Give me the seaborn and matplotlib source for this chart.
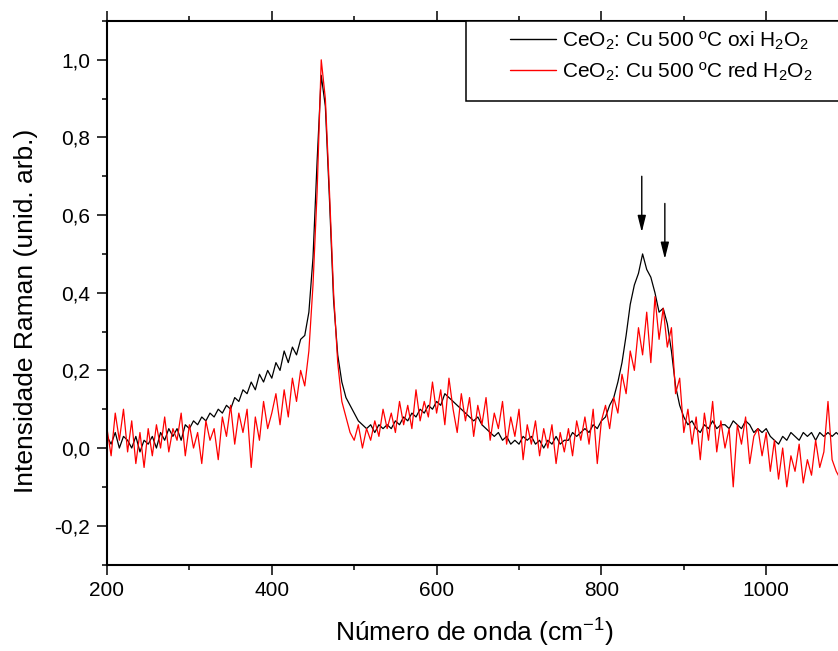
import numpy as np
import pandas as pd
import matplotlib
matplotlib.use("Agg")
import matplotlib.pyplot as plt
import seaborn as sns
from matplotlib.patches import Rectangle
from matplotlib.ticker import MultipleLocator, AutoMinorLocator, FuncFormatter

# ---------------------------------------------------------
# data (every 5 cm-1, 200 -> 1090)
# ---------------------------------------------------------
wavenumber = list(range(200, 1091, 5))

oxi = [
    0.03, 0.01, 0.04, 0.00, 0.03, 0.02, 0.00, 0.03, -0.01, 0.02,   # 200-245
    0.01, 0.03, 0.00, 0.04, 0.02, 0.05, 0.03, 0.05, 0.02, 0.06,    # 250-295
    0.05, 0.07, 0.06, 0.08, 0.07, 0.09, 0.08, 0.10, 0.09, 0.11,    # 300-345
    0.10, 0.13, 0.12, 0.15, 0.14, 0.17, 0.15, 0.19, 0.17, 0.20,    # 350-395
    0.18, 0.22, 0.20, 0.25, 0.22, 0.26, 0.24, 0.28, 0.29, 0.35,    # 400-445
    0.49, 0.74, 0.96, 0.88, 0.64, 0.38, 0.24, 0.17, 0.13, 0.11,    # 450-495
    0.09, 0.07, 0.06, 0.05, 0.06, 0.04, 0.06, 0.05, 0.06, 0.05,    # 500-545
    0.07, 0.06, 0.08, 0.07, 0.09, 0.08, 0.10, 0.09, 0.11, 0.10,    # 550-595
    0.12, 0.11, 0.14, 0.13, 0.12, 0.11, 0.10, 0.09, 0.08, 0.07,    # 600-645
    0.08, 0.06, 0.05, 0.04, 0.03, 0.04, 0.02, 0.03, 0.01, 0.02,    # 650-695
    0.01, 0.03, 0.02, 0.03, 0.01, 0.02, 0.00, 0.02, 0.01, 0.03,    # 700-745
    0.01, 0.02, 0.02, 0.04, 0.03, 0.04, 0.05, 0.04, 0.06, 0.05,    # 750-795
    0.07, 0.08, 0.11, 0.13, 0.17, 0.22, 0.29, 0.37, 0.42, 0.45,    # 800-845
    0.50, 0.46, 0.44, 0.40, 0.35, 0.36, 0.32, 0.25, 0.16, 0.11,    # 850-895
    0.08, 0.06, 0.07, 0.05, 0.04, 0.06, 0.05, 0.07, 0.05, 0.06,    # 900-945
    0.06, 0.05, 0.07, 0.06, 0.05, 0.07, 0.06, 0.04, 0.05, 0.04,    # 950-995
    0.05, 0.03, 0.02, 0.01, 0.03, 0.02, 0.04, 0.03, 0.02, 0.04,    # 1000-1045
    0.03, 0.04, 0.02, 0.04, 0.03, 0.04, 0.03, 0.04, 0.03,          # 1050-1090
]

red = [
    0.05, -0.02, 0.09, 0.02, 0.10, -0.01, 0.07, -0.04, 0.04, -0.05,  # 200-245
    0.05, -0.02, 0.06, 0.00, 0.08, -0.01, 0.05, 0.02, 0.09, -0.02,   # 250-295
    0.06, 0.00, 0.04, -0.04, 0.07, 0.02, 0.05, -0.03, 0.08, 0.03,    # 300-345
    0.11, 0.01, 0.09, 0.04, 0.10, -0.05, 0.08, 0.02, 0.12, 0.05,     # 350-395
    0.09, 0.14, 0.06, 0.15, 0.08, 0.18, 0.12, 0.20, 0.16, 0.25,      # 400-445
    0.42, 0.66, 1.00, 0.90, 0.66, 0.40, 0.22, 0.12, 0.08, 0.04,      # 450-495
    0.02, 0.06, 0.00, 0.05, 0.02, 0.07, 0.03, 0.10, 0.05, 0.09,      # 500-545
    0.04, 0.12, 0.06, 0.11, 0.05, 0.15, 0.07, 0.12, 0.08, 0.17,      # 550-595
    0.09, 0.15, 0.06, 0.18, 0.10, 0.04, 0.14, 0.07, 0.13, 0.03,      # 600-645
    0.11, 0.06, 0.13, 0.02, 0.09, 0.05, 0.12, 0.01, 0.08, 0.03,      # 650-695
    0.10, -0.03, 0.06, 0.01, 0.07, -0.02, 0.05, 0.00, 0.06, -0.04,   # 700-745
    0.04, -0.01, 0.05, -0.02, 0.07, 0.02, 0.08, 0.01, 0.10, -0.04,   # 750-795
    0.07, 0.11, 0.05, 0.13, 0.09, 0.19, 0.14, 0.25, 0.20, 0.31,      # 800-845
    0.24, 0.35, 0.22, 0.39, 0.28, 0.36, 0.26, 0.31, 0.14, 0.18,      # 850-895
    0.04, 0.10, 0.01, 0.08, -0.03, 0.09, 0.02, 0.12, -0.01, 0.07,    # 900-945
    0.00, 0.05, -0.10, 0.06, 0.01, 0.08, -0.04, 0.03, 0.05, -0.02,   # 950-995
    0.04, -0.06, 0.02, -0.08, 0.00, -0.10, -0.02, -0.06, 0.01, -0.09,  # 1000-1045
    -0.03, -0.07, 0.02, -0.05, -0.01, 0.12, -0.03, -0.06, -0.08,     # 1050-1090
]

series_names = ["CeO$_2$: Cu 500 ºC oxi H$_2$O$_2$",
                "CeO$_2$: Cu 500 ºC red H$_2$O$_2$"]
series_colors = ["black", "red"]

# arrows marking the two bands near 850 / 880 cm-1
arrow_x = [849, 877]
arrow_tip = [0.556, 0.487]
arrow_tail = [0.700, 0.630]

assert len(oxi) == len(wavenumber) and len(red) == len(wavenumber)

df = pd.DataFrame({"x": wavenumber * 2,
                   "y": oxi + red,
                   "amostra": [series_names[0]] * len(oxi) + [series_names[1]] * len(red)})

# ---------------------------------------------------------
# style
# ---------------------------------------------------------
sns.set_style("ticks")
plt.rcParams["font.family"] = ["Liberation Sans", "DejaVu Sans"]
plt.rcParams["mathtext.fontset"] = "custom"
plt.rcParams["mathtext.rm"] = "Liberation Sans"
plt.rcParams["mathtext.it"] = "Liberation Sans:italic"
plt.rcParams["mathtext.bf"] = "Liberation Sans:bold"
plt.rcParams["text.color"] = "black"
plt.rcParams["axes.labelcolor"] = "black"

fig = plt.figure(figsize=(8.38, 6.51), dpi=100)
ax = fig.add_axes([107 / 838, 86.5 / 651, 735 / 838, 543.5 / 651])

sns.lineplot(data=df, x="x", y="y", hue="amostra", palette=dict(zip(series_names, series_colors)),
             estimator=None, sort=False, lw=0.9, ax=ax)

for xa, yt, ys in zip(arrow_x, arrow_tip, arrow_tail):
    ax.annotate("", xy=(xa, yt), xytext=(xa, ys),
                arrowprops=dict(arrowstyle="-|>,head_length=1.0,head_width=0.25",
                                color="black", lw=1.0, mutation_scale=10,
                                shrinkA=0, shrinkB=0))

ax.set_xlim(200, 1092)
ax.set_ylim(-0.3, 1.1)
ax.xaxis.set_major_locator(MultipleLocator(200))
ax.xaxis.set_minor_locator(AutoMinorLocator(2))
ax.yaxis.set_major_locator(MultipleLocator(0.2))
ax.yaxis.set_minor_locator(AutoMinorLocator(2))
ax.yaxis.set_major_formatter(FuncFormatter(lambda v, p: f"{v:.1f}".replace(".", ",")))

for s in ["left", "bottom", "top", "right"]:
    ax.spines[s].set_linewidth(1.5)
    ax.spines[s].set_color("black")

ax.tick_params(which="both", direction="out", top=True, labeltop=False,
               width=1.1, color="black", labelcolor="black", labelsize=15)
ax.tick_params(which="major", length=7, pad=5)
ax.tick_params(which="minor", length=3.5)

ax.set_xlabel("Número de onda (cm$^{-1}$)", fontsize=19, labelpad=12, color="black")
ax.set_ylabel("Intensidade Raman (unid. arb.)", fontsize=19, color="black")
ax.yaxis.set_label_coords(-0.094, 0.467)

# legend box (the right edge runs off the cropped figure)
ax.add_patch(Rectangle((0.4884, 0.8528), 0.6, 0.1472, transform=ax.transAxes,
                       facecolor="white", edgecolor="black", lw=1.1,
                       clip_on=False, zorder=4))
leg = ax.legend(loc="upper left", bbox_to_anchor=((510 - 107) / 735, 0.9844),
                borderaxespad=0, borderpad=0, fontsize=15, frameon=False,
                handlelength=2.2, handletextpad=0.3, labelspacing=0.42,
                labelcolor="black")
leg.set_zorder(5)
for h in leg.get_lines():
    h.set_linewidth(1.0)

plt.savefig("out.png", dpi=100)
